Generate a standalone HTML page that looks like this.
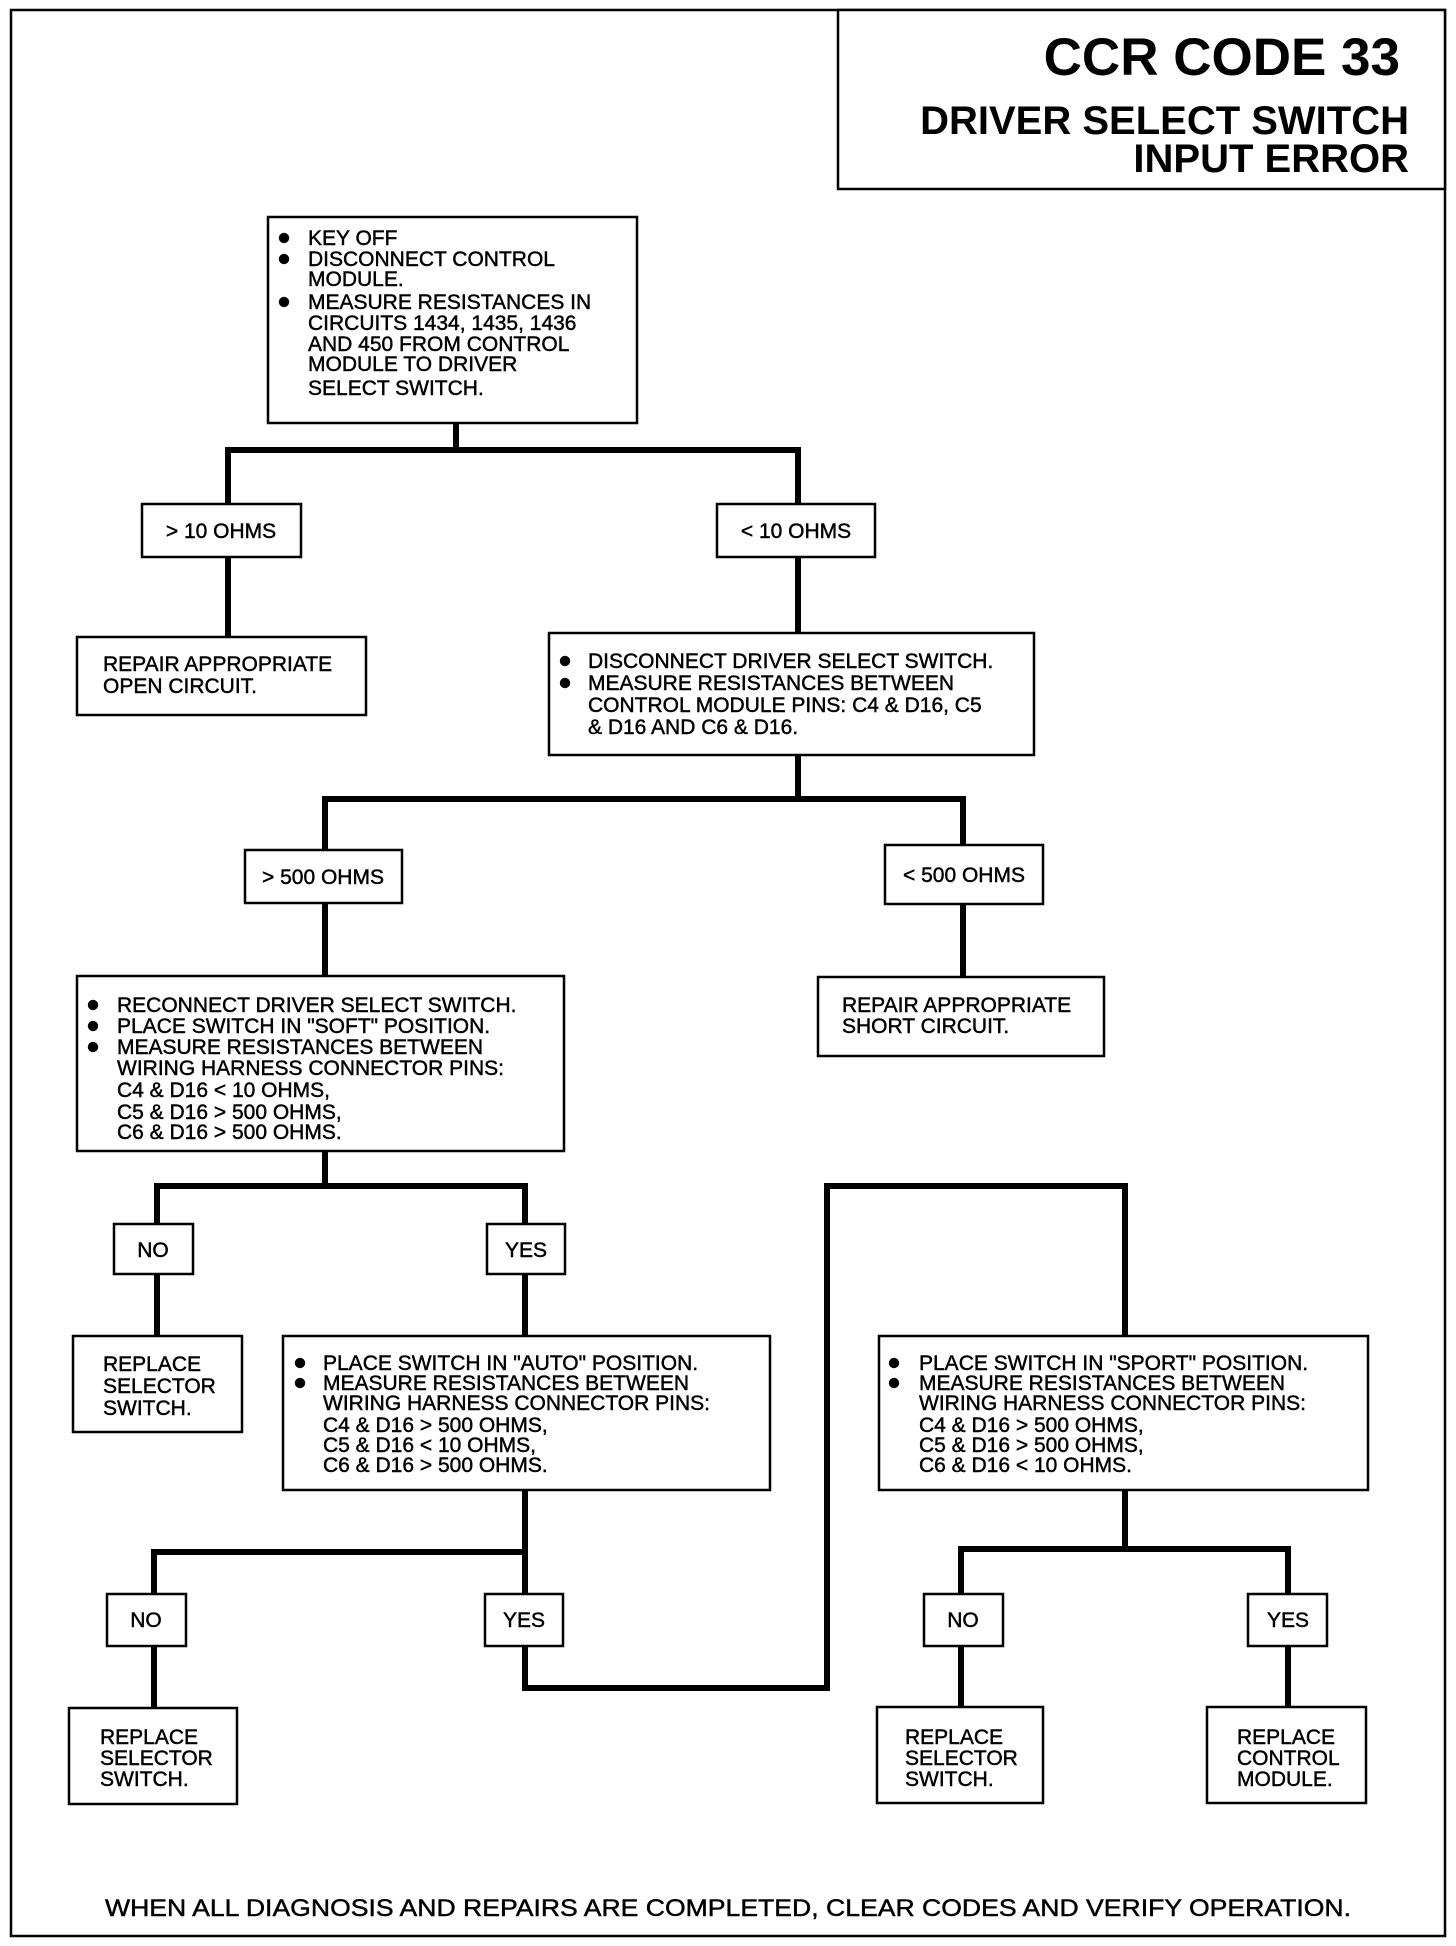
<!DOCTYPE html>
<html><head><meta charset="utf-8"><style>
html,body{margin:0;padding:0;background:#fff;}
svg{display:block;}
text{font-family:"Liberation Sans",Arial,sans-serif;fill:#000;}
.t{font-size:21px;stroke:#000;stroke-width:0.45px;}
.b{fill:#fff;stroke:#000;stroke-width:2.5;}
.c{fill:none;stroke:#000;stroke-width:6;stroke-linejoin:miter;stroke-linecap:square;}
</style></head><body>
<svg width="1456" height="1946" viewBox="0 0 1456 1946" xmlns="http://www.w3.org/2000/svg">
<rect x="11" y="10" width="1434" height="1926" fill="none" stroke="#000" stroke-width="2.5"/>
<!-- title -->
<rect x="838" y="10" width="607" height="179" class="b"/>
<text x="1400" y="75" text-anchor="end" font-size="53" font-weight="bold">CCR CODE 33</text>
<text x="1409" y="134" text-anchor="end" font-size="40" font-weight="bold">DRIVER SELECT SWITCH</text>
<text x="1409" y="172" text-anchor="end" font-size="40" font-weight="bold">INPUT ERROR</text>

<!-- connectors -->
<path class="c" d="M456 423 V450 M228 450 H798 M228 450 V504 M798 450 V504 M228 557 V637 M798 557 V633"/>
<path class="c" d="M798 755 V799 M325 799 H963 M325 799 V850 M963 799 V845 M325 903 V976 M963 904 V977"/>
<path class="c" d="M325 1151 V1186 M157 1186 H525 M157 1186 V1224 M525 1186 V1224 M157 1274 V1336 M525 1274 V1336"/>
<path class="c" d="M525 1490 V1552 M154 1552 H525 M154 1552 V1594 M525 1552 V1594 M154 1646 V1708 M525 1646 V1688 H827 V1186 H1125 V1336"/>
<path class="c" d="M1125 1490 V1549 M961 1549 H1288 M961 1549 V1594 M1288 1549 V1594 M961 1646 V1707 M1288 1646 V1707"/>

<!-- box1 -->
<rect x="268" y="217" width="369" height="206" class="b"/>
<g class="t">
<circle cx="284" cy="238" r="5"/><circle cx="284" cy="259" r="5"/><circle cx="284" cy="302" r="5"/>
<text x="308" y="245">KEY OFF</text>
<text x="308" y="266">DISCONNECT CONTROL</text>
<text x="308" y="286">MODULE.</text>
<text x="308" y="309">MEASURE RESISTANCES IN</text>
<text x="308" y="330">CIRCUITS 1434, 1435, 1436</text>
<text x="308" y="351">AND 450 FROM CONTROL</text>
<text x="308" y="371">MODULE TO DRIVER</text>
<text x="308" y="395">SELECT SWITCH.</text>
</g>

<!-- labels row 1 -->
<rect x="142" y="504" width="159" height="53" class="b"/>
<text class="t" x="221" y="538" text-anchor="middle">&gt; 10 OHMS</text>
<rect x="717" y="504" width="158" height="53" class="b"/>
<text class="t" x="796" y="538" text-anchor="middle">&lt; 10 OHMS</text>

<rect x="77" y="637" width="289" height="78" class="b"/>
<text class="t" x="103" y="671">REPAIR APPROPRIATE</text>
<text class="t" x="103" y="693">OPEN CIRCUIT.</text>

<!-- box2 -->
<rect x="549" y="633" width="485" height="122" class="b"/>
<g class="t">
<circle cx="565" cy="661" r="5"/><circle cx="565" cy="683" r="5"/>
<text x="588" y="668">DISCONNECT DRIVER SELECT SWITCH.</text>
<text x="588" y="690">MEASURE RESISTANCES BETWEEN</text>
<text x="588" y="712">CONTROL MODULE PINS: C4 &amp; D16, C5</text>
<text x="588" y="734">&amp; D16 AND C6 &amp; D16.</text>
</g>

<rect x="245" y="850" width="157" height="53" class="b"/>
<text class="t" x="323" y="884" text-anchor="middle">&gt; 500 OHMS</text>
<rect x="885" y="845" width="158" height="59" class="b"/>
<text class="t" x="964" y="882" text-anchor="middle">&lt; 500 OHMS</text>

<rect x="818" y="977" width="286" height="79" class="b"/>
<text class="t" x="842" y="1012">REPAIR APPROPRIATE</text>
<text class="t" x="842" y="1033">SHORT CIRCUIT.</text>

<!-- box3 -->
<rect x="77" y="976" width="487" height="175" class="b"/>
<g class="t">
<circle cx="93" cy="1005" r="5"/><circle cx="93" cy="1026" r="5"/><circle cx="93" cy="1047" r="5"/>
<text x="117" y="1012">RECONNECT DRIVER SELECT SWITCH.</text>
<text x="117" y="1033">PLACE SWITCH IN "SOFT" POSITION.</text>
<text x="117" y="1054">MEASURE RESISTANCES BETWEEN</text>
<text x="117" y="1075">WIRING HARNESS CONNECTOR PINS:</text>
<text x="117" y="1097">C4 &amp; D16 &lt; 10 OHMS,</text>
<text x="117" y="1119">C5 &amp; D16 &gt; 500 OHMS,</text>
<text x="117" y="1139">C6 &amp; D16 &gt; 500 OHMS.</text>
</g>

<rect x="114" y="1224" width="79" height="50" class="b"/>
<text class="t" x="153" y="1257" text-anchor="middle">NO</text>
<rect x="487" y="1224" width="78" height="50" class="b"/>
<text class="t" x="526" y="1257" text-anchor="middle">YES</text>

<rect x="73" y="1336" width="169" height="96" class="b"/>
<text class="t" x="103" y="1371">REPLACE</text>
<text class="t" x="103" y="1393">SELECTOR</text>
<text class="t" x="103" y="1415">SWITCH.</text>

<!-- box4 -->
<rect x="283" y="1336" width="487" height="154" class="b"/>
<g class="t">
<circle cx="300" cy="1363" r="5"/><circle cx="300" cy="1383" r="5"/>
<text x="323" y="1370">PLACE SWITCH IN "AUTO" POSITION.</text>
<text x="323" y="1390">MEASURE RESISTANCES BETWEEN</text>
<text x="323" y="1410">WIRING HARNESS CONNECTOR PINS:</text>
<text x="323" y="1432">C4 &amp; D16 &gt; 500 OHMS,</text>
<text x="323" y="1452">C5 &amp; D16 &lt; 10 OHMS,</text>
<text x="323" y="1472">C6 &amp; D16 &gt; 500 OHMS.</text>
</g>

<!-- box5 -->
<rect x="879" y="1336" width="489" height="154" class="b"/>
<g class="t">
<circle cx="894" cy="1363" r="5"/><circle cx="894" cy="1383" r="5"/>
<text x="919" y="1370">PLACE SWITCH IN "SPORT" POSITION.</text>
<text x="919" y="1390">MEASURE RESISTANCES BETWEEN</text>
<text x="919" y="1410">WIRING HARNESS CONNECTOR PINS:</text>
<text x="919" y="1432">C4 &amp; D16 &gt; 500 OHMS,</text>
<text x="919" y="1452">C5 &amp; D16 &gt; 500 OHMS,</text>
<text x="919" y="1472">C6 &amp; D16 &lt; 10 OHMS.</text>
</g>

<rect x="107" y="1594" width="79" height="52" class="b"/>
<text class="t" x="146" y="1627" text-anchor="middle">NO</text>
<rect x="485" y="1594" width="78" height="52" class="b"/>
<text class="t" x="524" y="1627" text-anchor="middle">YES</text>
<rect x="924" y="1594" width="79" height="52" class="b"/>
<text class="t" x="963" y="1627" text-anchor="middle">NO</text>
<rect x="1248" y="1594" width="79" height="52" class="b"/>
<text class="t" x="1288" y="1627" text-anchor="middle">YES</text>

<rect x="69" y="1708" width="168" height="96" class="b"/>
<text class="t" x="100" y="1744">REPLACE</text>
<text class="t" x="100" y="1765">SELECTOR</text>
<text class="t" x="100" y="1786">SWITCH.</text>

<rect x="877" y="1707" width="166" height="96" class="b"/>
<text class="t" x="905" y="1744">REPLACE</text>
<text class="t" x="905" y="1765">SELECTOR</text>
<text class="t" x="905" y="1786">SWITCH.</text>

<rect x="1207" y="1707" width="159" height="96" class="b"/>
<text class="t" x="1237" y="1744">REPLACE</text>
<text class="t" x="1237" y="1765">CONTROL</text>
<text class="t" x="1237" y="1786">MODULE.</text>

<text class="t" x="105" y="1916" font-size="24" textLength="1246" lengthAdjust="spacingAndGlyphs" style="font-size:24px">WHEN ALL DIAGNOSIS AND REPAIRS ARE COMPLETED, CLEAR CODES AND VERIFY OPERATION.</text>
</svg>
</body></html>
